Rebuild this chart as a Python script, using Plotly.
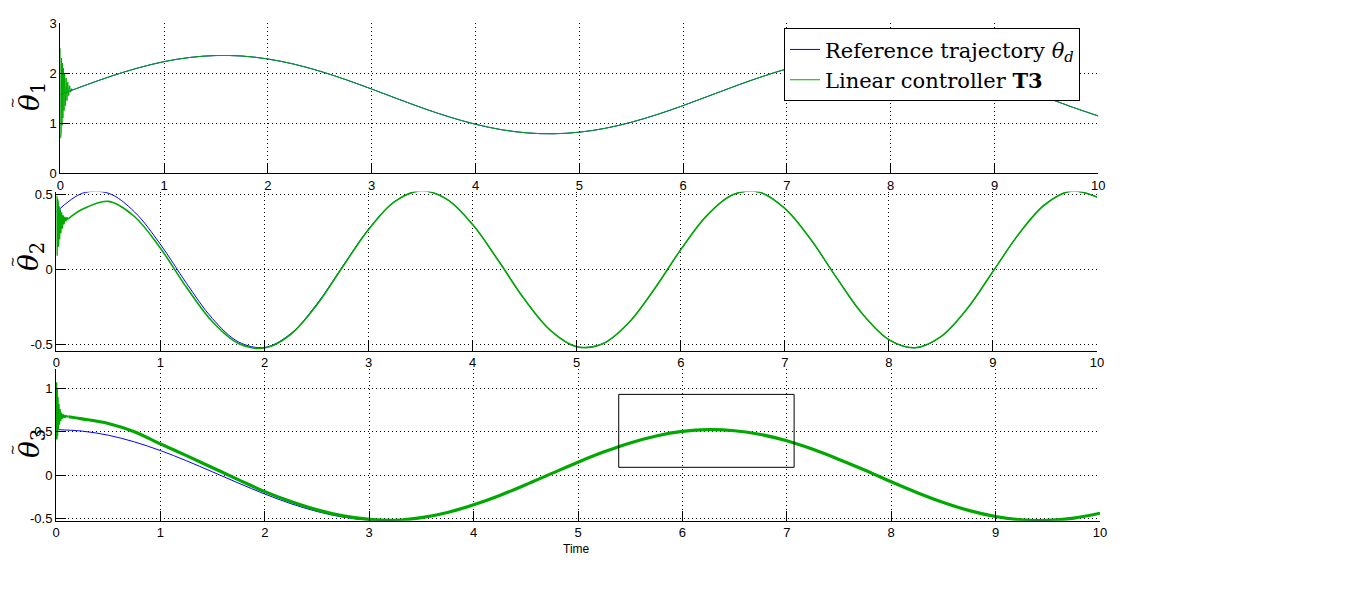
import plotly.graph_objects as go

# ---------------- data ----------------
t = [0.0, 0.25, 0.5, 0.75, 1.0, 1.25, 1.5, 1.75, 2.0, 2.25, 2.5, 2.75, 3.0, 3.25,
     3.5, 3.75, 4.0, 4.25, 4.5, 4.75, 5.0, 5.25, 5.5, 5.75, 6.0, 6.25, 6.5, 6.75,
     7.0, 7.25, 7.5, 7.75, 8.0, 8.25, 8.5, 8.75, 9.0, 9.25, 9.5, 9.75, 10.0]

theta1_ref = [1.571, 1.765, 1.947, 2.106, 2.232, 2.316, 2.354, 2.344, 2.285, 2.182,
              2.041, 1.871, 1.682, 1.486, 1.295, 1.122, 0.977, 0.868, 0.803, 0.786,
              0.818, 0.896, 1.017, 1.172, 1.351, 1.545, 1.740, 1.924, 2.087, 2.217,
              2.308, 2.352, 2.348, 2.296, 2.198, 2.061, 1.894, 1.708, 1.512, 1.320, 1.143]

theta2_ref = [0.383, 0.507, 0.507, 0.383, 0.166, -0.093, -0.329, -0.484, -0.521, -0.430,
              -0.234, 0.019, 0.268, 0.451, 0.523, 0.468, 0.298, 0.055, -0.202, -0.409,
              -0.516, -0.496, -0.356, -0.128, 0.131, 0.358, 0.497, 0.515, 0.406, 0.198,
              -0.059, -0.301, -0.469, -0.523, -0.449, -0.265, -0.015, 0.237, 0.432, 0.521, 0.482]

theta3_ref = [0.524, 0.507, 0.460, 0.383, 0.283, 0.165, 0.037, -0.093, -0.218, -0.329,
              -0.419, -0.484, -0.518, -0.521, -0.490, -0.430, -0.342, -0.234, -0.110, 0.020,
              0.149, 0.268, 0.371, 0.451, 0.503, 0.523, 0.511, 0.468, 0.395, 0.297,
              0.181, 0.057, -0.076, -0.202, -0.315, -0.409, -0.477, -0.516, -0.522, -0.495, -0.439]

# controller response: initial high-frequency transient
t_transient = [0.000, 0.003, 0.006, 0.009, 0.012, 0.016, 0.020, 0.025, 0.030, 0.036,
               0.042, 0.049, 0.056, 0.064, 0.072, 0.081, 0.090, 0.100, 0.110, 0.120]
theta1_transient = [2.50, 0.70, 2.45, 0.80, 2.30, 0.95, 2.20, 1.10, 2.10, 1.25,
                    2.00, 1.35, 1.90, 1.45, 1.82, 1.55, 1.75, 1.62, 1.69, 1.665]
theta2_transient = [0.38, 0.49, 0.09, 0.47, 0.12, 0.45, 0.15, 0.42, 0.20, 0.40,
                    0.24, 0.38, 0.27, 0.36, 0.30, 0.35, 0.32, 0.345, 0.335, 0.34]
theta3_transient = [0.68, 1.07, 0.41, 1.00, 0.45, 0.90, 0.52, 0.82, 0.58, 0.76,
                    0.62, 0.72, 0.65, 0.70, 0.66, 0.69, 0.67, 0.68, 0.675, 0.672]

# controller response after the transient
t_ctrl = [0.12, 0.25, 0.5, 0.75, 1.0, 1.25, 1.5, 1.75, 2.0, 2.25, 2.5, 2.75, 3.0, 3.25,
          3.5, 3.75, 4.0, 4.25, 4.5, 4.75, 5.0, 5.25, 5.5, 5.75, 6.0, 6.25, 6.5, 6.75,
          7.0, 7.25, 7.5, 7.75, 8.0, 8.25, 8.5, 8.75, 9.0, 9.25, 9.5, 9.75, 10.0]

theta1_ctrl = [1.665, 1.765, 1.947, 2.106, 2.232, 2.316, 2.354, 2.344, 2.285, 2.182,
               2.041, 1.871, 1.682, 1.486, 1.295, 1.122, 0.977, 0.868, 0.803, 0.786,
               0.818, 0.896, 1.017, 1.172, 1.351, 1.545, 1.740, 1.924, 2.087, 2.217,
               2.308, 2.352, 2.348, 2.296, 2.198, 2.061, 1.894, 1.708, 1.512, 1.320, 1.143]

theta2_ctrl = [0.340, 0.400, 0.453, 0.352, 0.140, -0.120, -0.350, -0.495, -0.525, -0.435,
               -0.240, 0.015, 0.265, 0.451, 0.523, 0.468, 0.298, 0.055, -0.202, -0.409,
               -0.516, -0.496, -0.356, -0.128, 0.131, 0.358, 0.497, 0.515, 0.406, 0.198,
               -0.059, -0.301, -0.469, -0.523, -0.449, -0.265, -0.015, 0.237, 0.432, 0.521, 0.482]

theta3_ctrl = [0.672, 0.648, 0.595, 0.500, 0.360, 0.225, 0.085, -0.055, -0.190, -0.305,
               -0.400, -0.470, -0.510, -0.521, -0.490, -0.430, -0.342, -0.234, -0.110, 0.020,
               0.149, 0.268, 0.371, 0.451, 0.503, 0.523, 0.511, 0.468, 0.395, 0.297,
               0.181, 0.057, -0.076, -0.202, -0.315, -0.409, -0.477, -0.516, -0.522, -0.495, -0.439]

x_ticks = [0, 1, 2, 3, 4, 5, 6, 7, 8, 9, 10]
x_ticktext = ["0", "1", "2", "3", "4", "5", "6", "7", "8", "9", "10"]
y1_ticks = [0, 1, 2, 3]
y1_ticktext = ["0", "1", "2", "3"]
y2_ticks = [-0.5, 0, 0.5]
y2_ticktext = ["-0.5", "0", "0.5"]
y3_ticks = [-0.5, 0, 0.5, 1]
y3_ticktext = ["-0.5", "0", "0.5", "1"]

zoom_box = dict(x0=5.39, x1=7.07, y0=0.09, y1=0.93)

# ---------------- figure ----------------
BLUE = "#0000FF"
GREEN = "#00A800"
OFF = 8                      # page body margin of the html page
W, H = 1366 - 2 * OFF, 610 - 2 * OFF

fig = go.Figure()
panels = [
    ("x", "y", theta1_ref, theta1_transient, theta1_ctrl, 1.0, True),
    ("x2", "y2", theta2_ref, theta2_transient, theta2_ctrl, 1.6, False),
    ("x3", "y3", theta3_ref, theta3_transient, theta3_ctrl, 3.2, False),
]
for xa, ya, ref, tr, ctrl, gw, show in panels:
    fig.add_trace(go.Scatter(x=t, y=ref, mode="lines", line=dict(color=BLUE, width=1, shape="spline"),
                             xaxis=xa, yaxis=ya, name="Reference trajectory <i>θ</i><sub><i>d</i></sub>",
                             legendgroup="ref", showlegend=show))
    fig.add_trace(go.Scatter(x=t_ctrl, y=ctrl, mode="lines", line=dict(color=GREEN, width=gw, shape="spline"),
                             xaxis=xa, yaxis=ya, name="Linear controller <b>T3</b>",
                             legendgroup="ctrl", showlegend=show))
    fig.add_trace(go.Scatter(x=t_transient, y=tr, mode="lines", line=dict(color=GREEN, width=gw if gw < 2 else 2),
                             xaxis=xa, yaxis=ya, legendgroup="ctrl", showlegend=False))

tickfont = dict(family="Liberation Sans, Arial, sans-serif", size=13, color="black")
common = dict(showline=True, linecolor="black", linewidth=1, mirror=False,
              ticks="inside", ticklen=10, tickcolor="black", tickwidth=1,
              showgrid=True, gridcolor="black", gridwidth=1, griddash="1px,3px",
              zeroline=False, tickfont=tickfont, automargin=False, fixedrange=True)


def px_x(p):
    return (p - OFF) / W


def px_y(p):
    return 1 - (p - OFF) / H


fig.update_layout(
    width=W, height=H,
    margin=dict(l=0, r=0, t=0, b=0),
    paper_bgcolor="white", plot_bgcolor="white",
    xaxis=dict(domain=[px_x(60.3), px_x(1098.3)], anchor="y", range=[0, 10],
               tickvals=x_ticks, ticktext=x_ticktext, **common),
    yaxis=dict(domain=[px_y(173), px_y(23.3)], anchor="x", range=[0, 3],
               tickvals=y1_ticks, ticktext=y1_ticktext, **common),
    xaxis2=dict(domain=[px_x(56.4), px_x(1097)], anchor="y2", range=[0, 10],
                tickvals=x_ticks, ticktext=x_ticktext, **common),
    yaxis2=dict(domain=[px_y(350.75), px_y(191.75)], anchor="x2", range=[-0.543, 0.517],
                tickvals=y2_ticks, ticktext=y2_ticktext, **common),
    xaxis3=dict(domain=[px_x(56.0), px_x(1100)], anchor="y3", range=[0, 10],
                tickvals=x_ticks, ticktext=x_ticktext, **common),
    yaxis3=dict(domain=[px_y(520.7), px_y(369.2)], anchor="x3", range=[-0.525, 1.22],
                tickvals=y3_ticks, ticktext=y3_ticktext, **common),
    legend=dict(x=px_x(784), y=px_y(28.3), xanchor="left", yanchor="top",
                bgcolor="white", bordercolor="black", borderwidth=1,
                font=dict(family="DejaVu Serif, serif", size=21, color="black"),
                tracegroupgap=0),
    showlegend=True,
)

fig.add_shape(type="rect", xref="x3", yref="y3", line=dict(color="black", width=1),
              fillcolor="rgba(0,0,0,0)", **zoom_box)

label_font = dict(family="DejaVu Serif, serif", size=28, color="black")
for sub, ycen in [("1", 97), ("2", 257), ("3", 444)]:
    fig.add_annotation(text="<i>θ</i><sub>" + sub + "</sub>", xref="paper", yref="paper",
                       x=px_x(31), y=px_y(ycen), xanchor="center", yanchor="middle",
                       textangle=-90, showarrow=False, font=label_font)
    fig.add_annotation(text="≀", xref="paper", yref="paper",
                       x=px_x(12), y=px_y(ycen + 5), xanchor="center", yanchor="middle",
                       showarrow=False, borderpad=0,
                       font=dict(family="DejaVu Sans, sans-serif", size=13, color="black"))

fig.add_annotation(text="Time", xref="paper", yref="paper", x=px_x(576), y=px_y(549),
                   xanchor="center", yanchor="middle", showarrow=False,
                   font=dict(family="Liberation Sans, Arial, sans-serif", size=12, color="black"))

fig.write_html("out.html")
